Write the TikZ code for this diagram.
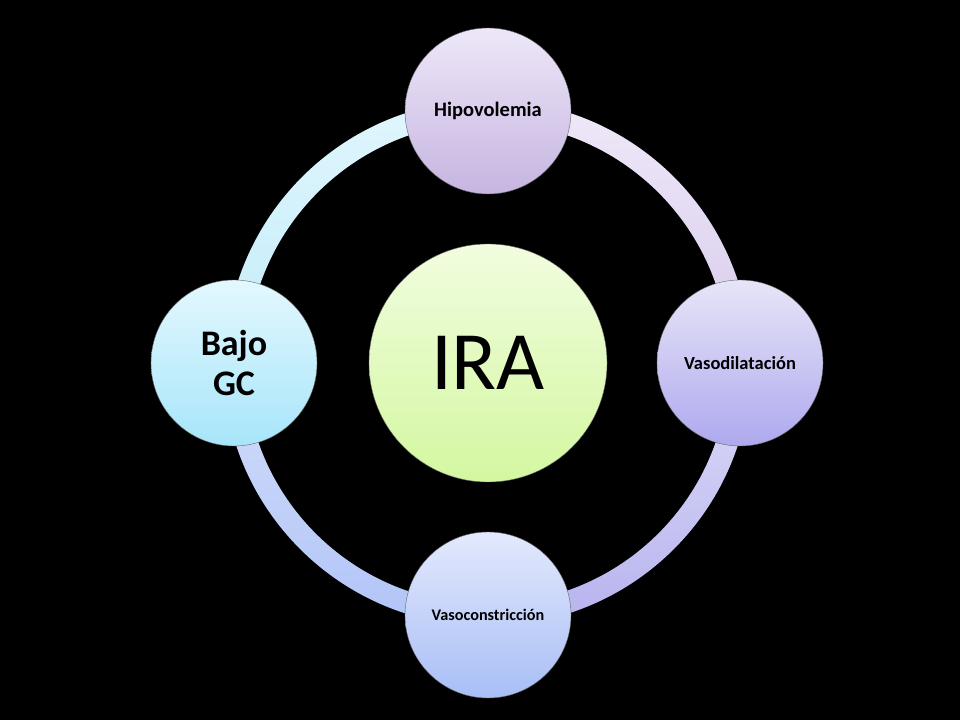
\documentclass[tikz,border=0pt]{standalone}
\usepackage{fontspec}
\setmainfont{Carlito}
\usetikzlibrary{positioning}
\pgfdeclarelayer{back}
\pgfsetlayers{back,main}

\definecolor{iraTop}{HTML}{F1FDDF}
\definecolor{iraBot}{HTML}{D4F7A0}
\definecolor{hipTop}{HTML}{EEE7F8}
\definecolor{hipBot}{HTML}{C6B5E1}
\definecolor{vdTop}{HTML}{E7E5F8}
\definecolor{vdBot}{HTML}{AEA9EE}
\definecolor{vcTop}{HTML}{E3E9FD}
\definecolor{vcBot}{HTML}{A8BEF6}
\definecolor{gcTop}{HTML}{E3F8FE}
\definecolor{gcBot}{HTML}{A7E5FA}
\definecolor{trTop}{HTML}{EFE9F8}
\definecolor{trBot}{HTML}{D6CAEC}
\definecolor{brTop}{HTML}{DCDCF8}
\definecolor{brBot}{HTML}{B7B3EE}
\definecolor{blTop}{HTML}{D4DEFA}
\definecolor{blBot}{HTML}{B0C4F7}
\definecolor{tlTop}{HTML}{E0F6FD}
\definecolor{tlBot}{HTML}{C2ECF9}

\begin{document}
\begin{tikzpicture}[%
    x=1pt, y=1pt,
    node distance=252pt,
    on grid,
    bubble/.style={circle, draw=black!60, line width=0.4pt, inner sep=0pt,
      minimum size=166pt, text=black},
    hub/.style={bubble, minimum size=238pt},
  ]

  \useasboundingbox (0,0) rectangle (960,720);

  \node[hub, top color=iraTop, bottom color=iraBot,
        font=\fontsize{83}{90}\selectfont] (IRA) at (488,357) {IRA};
  \node[bubble, top color=hipTop, bottom color=hipBot,
        font=\fontsize{20.5}{24}\selectfont\bfseries] (HIP) [above=of IRA] {Hipovolemia};
  \node[bubble, top color=vdTop, bottom color=vdBot,
        font=\fontsize{18.5}{22}\selectfont\bfseries] (VASD) [right=of IRA] {Vasodilatación};
  \node[bubble, top color=vcTop, bottom color=vcBot,
        font=\fontsize{16.2}{20}\selectfont\bfseries] (VASC) [below=of IRA] {Vasoconstricción};
  \node[bubble, top color=gcTop, bottom color=gcBot, align=center,
        font=\fontsize{36}{40}\selectfont\bfseries] (GC) [left=254pt of IRA] {Bajo\\GC};

  % ring behind the circles
  \begin{pgfonlayer}{back}
    \fill[black] (0,0) rectangle (960,720);
    \foreach \from/\a/\ct/\cb in {VASD/0/trTop/trBot, HIP/90/tlTop/tlBot,
                                  GC/180/blTop/blBot, VASC/270/brTop/brBot}
      \shade[top color=\ct, bottom color=\cb]
        (\from.center) ++(\a:11pt)
        arc[start angle=\a, delta angle=90, radius=263pt]
        -- ++(\a+270:22pt)
        arc[start angle=\a+90, delta angle=-90, radius=241pt] -- cycle;
  \end{pgfonlayer}

\end{tikzpicture}
\end{document}
